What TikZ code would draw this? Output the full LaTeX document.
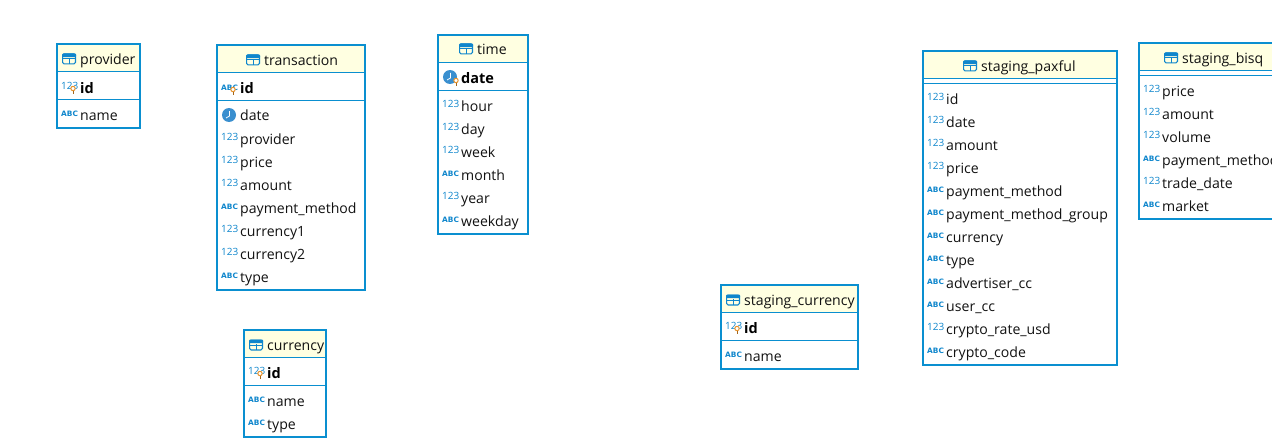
\documentclass[tikz,border=0pt]{standalone}
\usepackage{fontspec}
\setmainfont{Open Sans}
\newfontfamily\abcfont{DejaVu Sans}
\definecolor{bord}{HTML}{0A8FD0}
\definecolor{hdr}{HTML}{FFFFE1}
\definecolor{ico}{HTML}{0F86CC}
\definecolor{clk}{HTML}{3A8FCF}
\definecolor{keyc}{HTML}{E8922A}
\definecolor{txt}{HTML}{111111}
\tikzset{
  tblbox/.style={draw=bord,line width=2pt,inner sep=0pt,outer sep=0pt,anchor=north west},
  sep/.style={draw=bord,line width=1pt},
  lbl/.style={anchor=base west,inner sep=0pt,font=\fontsize{14.1}{16}\selectfont,text=txt},
  keylbl/.style={lbl,font=\fontsize{14.5}{16}\selectfont\bfseries,text=black},
  numico/.style={anchor=base west,inner sep=0pt,font=\fontsize{10}{12}\selectfont,text=ico},
  abcico/.style={anchor=base west,inner sep=0pt,font=\fontsize{7.4}{10}\abcfont\bfseries,text=ico},
}
% name, x1, y1, x2, y2, header bottom, title, icon x, title y
\newcommand{\tblframe}[9]{%
  \fill[hdr] (#2,#3) rectangle (#4,#6);
  \node[tblbox,minimum width=#4pt-#2pt,minimum height=#5pt-#3pt] (#1) at (#2,#3) {};
  \draw[sep] (#2,#6) -- (#4,#6);
  \fill[ico,rounded corners=1pt] (#8,#9-5.5) rectangle ++(14,3.6);
  \draw[ico,line width=1.1pt,rounded corners=1.5pt] (#8+.55,#9-4.95) rectangle ++(12.9,9.9);
  \draw[ico,line width=1pt] (#8+7,#9-1) -- ++(0,6);
  \draw[ico,line width=1pt] (#8,#9) -- ++(14,0);
  \node[lbl] (#1-title) at (#8+18,#9+5.5) {#7};
}
\newcommand{\tblsep}[3]{\draw[sep] (#1,#3) -- (#2,#3);}
\newcommand{\rownum}[4]{%
  \node[numico] (#1-i) at (#2+4,#3+2.5) {123};
  \node[lbl] (#1) at (#2+23,#3+6) {#4};}
\newcommand{\rowabc}[4]{%
  \node[abcico] (#1-i) at (#2+4,#3+2) {ABC};
  \node[lbl] (#1) at (#2+23,#3+6) {#4};}
\newcommand{\clockico}[2]{%
  \fill[clk] (#1+12,#2) circle (7);
  \draw[white,line width=.8pt] (#1+12.5,#2-4) -- (#1+12.5,#2+1) -- (#1+9,#2+3);}
\newcommand{\bulb}[2]{%
  \draw[keyc,line width=1pt,fill=white] (#1+15,#2+1.5) circle (2.2);
  \draw[keyc!70!black,line width=1pt] (#1+15,#2+4) -- (#1+15,#2+7);}
\newcommand{\keynum}[4]{%
  \node[numico] (#1-i) at (#2+4,#3+2.5) {123};
  \bulb{#2+1}{#3}
  \node[keylbl] (#1) at (#2+23,#3+6) {#4};}
\begin{document}
\begin{tikzpicture}[x=1pt,y=-1pt]
\useasboundingbox (0,0) rectangle (1272,444);
\begin{scope}
\clip (0,0) rectangle (1272,444);
% provider
\tblframe{provider}{57}{44.5}{140}{128}{71.5}{provider}{62}{59}
\tblsep{57}{140}{99.5}
\keynum{pid}{57}{87}{id}
\rowabc{pname}{57}{115}{name}
% transaction
\tblframe{transaction}{217}{45.5}{365}{290}{72.5}{transaction}{246}{60}
\tblsep{217}{365}{100.5}
\node[abcico] (tid-i) at (221,90) {ABC};
\bulb{218}{88}
\node[keylbl] (tid) at (240,93) {id};
\clockico{217}{115}
\node[lbl] (tdate) at (240,121) {date};
\rownum{tprov}{217}{138}{provider}
\rownum{tprice}{217}{161}{price}
\rownum{tamount}{217}{184}{amount}
\rowabc{tpay}{217}{207}{payment\_method}
\rownum{tc1}{217}{230}{currency1}
\rownum{tc2}{217}{253}{currency2}
\rowabc{ttype}{217}{276}{type}
% time
\tblframe{time}{438}{35.5}{528}{234}{62.5}{time}{459}{49}
\tblsep{438}{528}{90.5}
\clockico{438}{77}
\bulb{441}{79}
\node[keylbl] (tmdate) at (461,83.5) {date};
\rownum{tmh}{438}{105}{hour}
\rownum{tmd}{438}{128}{day}
\rownum{tmw}{438}{151}{week}
\rowabc{tmm}{438}{174}{month}
\rownum{tmy}{438}{197}{year}
\rowabc{tmwd}{438}{220}{weekday}
% currency
\tblframe{currency}{244}{330}{326}{437}{357.5}{currency}{249}{345}
\tblsep{244}{326}{385.5}
\keynum{cid}{244}{372}{id}
\rowabc{cname}{244}{400}{name}
\rowabc{ctype}{244}{423}{type}
% staging_currency
\tblframe{stgcur}{721}{285}{858}{369}{312.5}{staging\_currency}{726}{300}
\tblsep{721}{858}{340.5}
\keynum{sid}{721}{327}{id}
\rowabc{sname}{721}{355}{name}
% staging_paxful
\tblframe{paxful}{923}{51.5}{1117}{365}{78.5}{staging\_paxful}{963}{66}
\tblsep{923}{1117}{83.5}
\rownum{p1}{923}{98}{id}
\rownum{p2}{923}{121}{date}
\rownum{p3}{923}{144}{amount}
\rownum{p4}{923}{167}{price}
\rowabc{p5}{923}{190}{payment\_method}
\rowabc{p6}{923}{213}{payment\_method\_group}
\rowabc{p7}{923}{236}{currency}
\rowabc{p8}{923}{259}{type}
\rowabc{p9}{923}{282}{advertiser\_cc}
\rowabc{p10}{923}{305}{user\_cc}
\rownum{p11}{923}{328}{crypto\_rate\_usd}
\rowabc{p12}{923}{351}{crypto\_code}
% staging_bisq
\tblframe{bisq}{1139}{43.5}{1290}{219}{70.5}{staging\_bisq}{1164}{58}
\tblsep{1139}{1290}{75.5}
\rownum{b1}{1139}{90}{price}
\rownum{b2}{1139}{113}{amount}
\rownum{b3}{1139}{136}{volume}
\rowabc{b4}{1139}{159}{payment\_method}
\rownum{b5}{1139}{182}{trade\_date}
\rowabc{b6}{1139}{205}{market}
\end{scope}
\end{tikzpicture}
\end{document}
